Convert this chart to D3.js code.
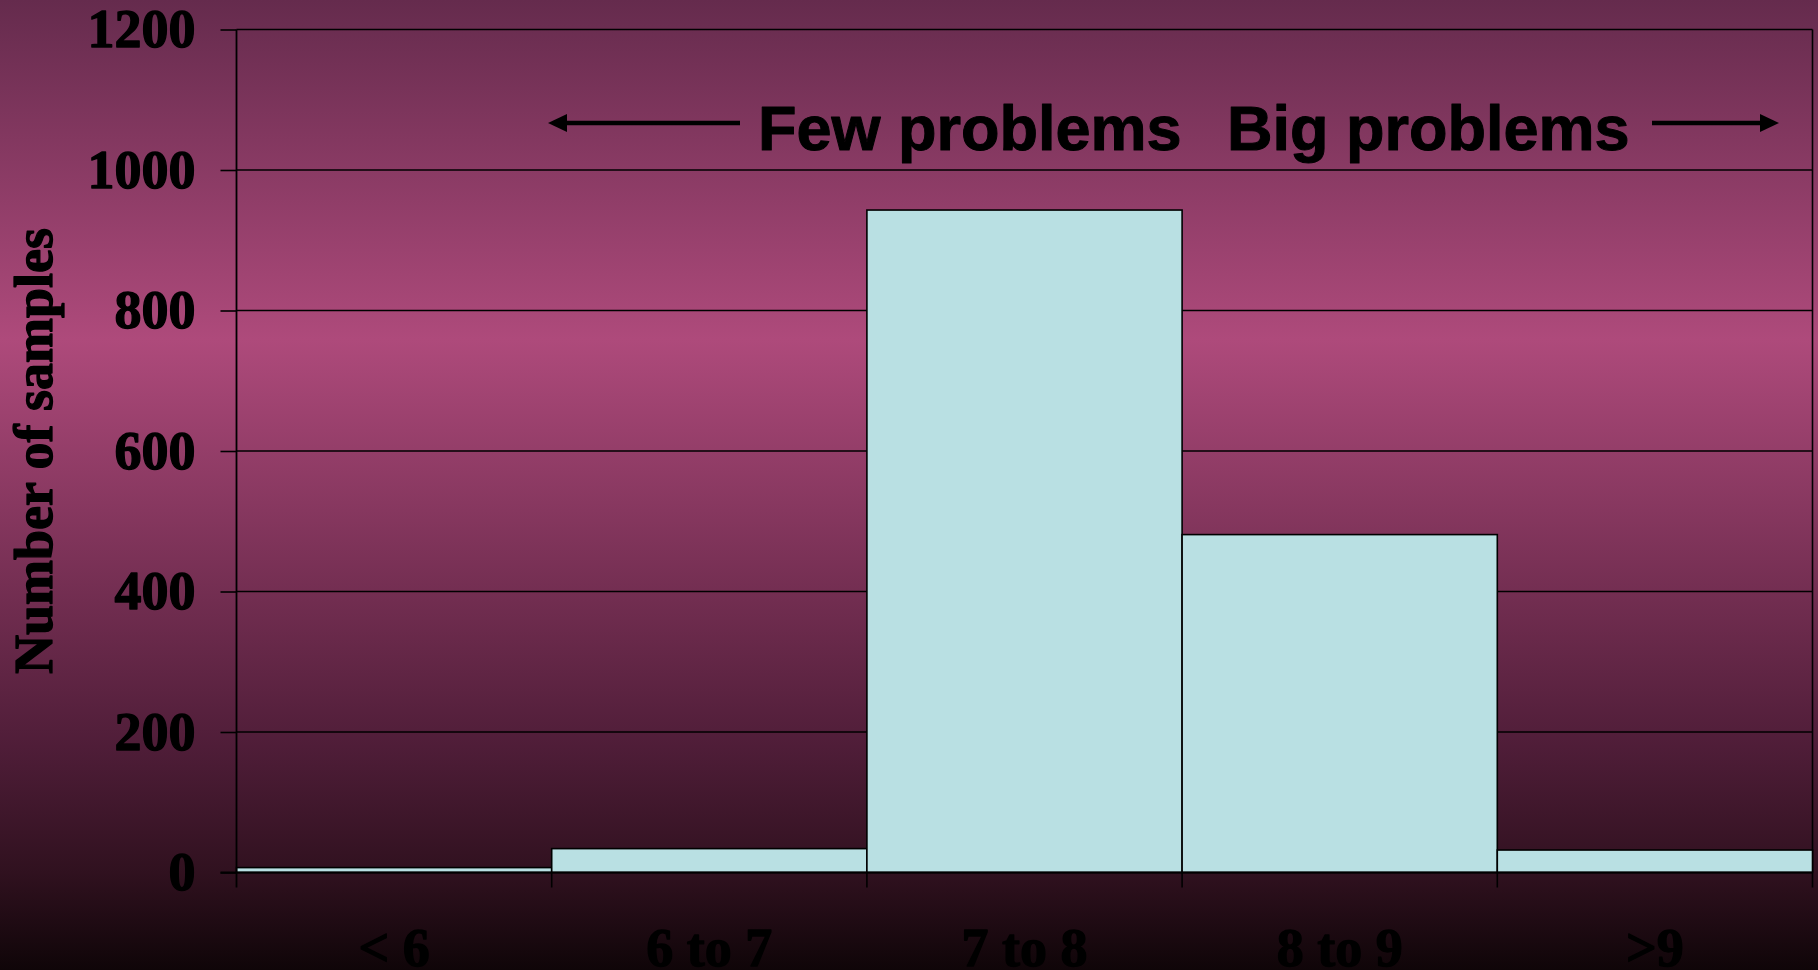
<!DOCTYPE html>
<html>
<head>
<meta charset="utf-8">
<script src="https://cdn.jsdelivr.net/npm/d3@7/dist/d3.min.js"></script>
<style>
  html, body { margin: 0; padding: 0; background: #100508; }
  svg { display: block; }
</style>
</head>
<body>
<svg id="chart" width="1818" height="970"></svg>
<script>
// Histogram of sample counts per class
const categories = ["< 6", "6 to 7", "7 to 8", "8 to 9", ">9"];
const counts = [7, 34, 943, 481, 32];
const yTicks = [0, 200, 400, 600, 800, 1000, 1200];
const yTitle = "Number of samples";
const leftNote = "Few problems";
const rightNote = "Big problems";

const W = 1818, H = 970;
const plot = { left: 236.5, right: 1812.5, top: 29.5, bottom: 872.5 };
const serif = "'Liberation Serif', 'Times New Roman', serif";
const sans = "'Liberation Sans', Arial, sans-serif";

const svg = d3.select("#chart");

// Heavy text: fill plus a thin outline of the same colour
function heavy(sel, family, size, sw) {
  return sel.attr("fill", "#000").attr("stroke", "#000").attr("stroke-width", sw)
    .attr("stroke-linejoin", "round")
    .style("font-family", family).style("font-weight", "bold").style("font-size", size + "px");
}

// Background: vertical plum gradient, brightest about a third of the way down
const defs = svg.append("defs");
const grad = defs.append("linearGradient")
  .attr("id", "bg").attr("x1", 0).attr("y1", 0).attr("x2", 0).attr("y2", 1);
[[0, "#652b4d"], [0.35, "#ae4a7b"], [0.77, "#4f1d38"], [0.9, "#30111f"], [1, "#0f0508"]]
  .forEach(([o, c]) => grad.append("stop").attr("offset", o).attr("stop-color", c));
svg.append("rect").attr("width", W).attr("height", H).attr("fill", "url(#bg)");

const x = d3.scaleBand().domain(categories).range([plot.left, plot.right]).padding(0);
const y = d3.scaleLinear().domain([0, 1200]).range([plot.bottom, plot.top]);

// Horizontal gridlines
svg.append("g").selectAll("line")
  .data(yTicks.filter(v => v > 0))
  .join("line")
  .attr("x1", plot.left).attr("x2", plot.right)
  .attr("y1", d => y(d)).attr("y2", d => y(d))
  .attr("stroke", "#000").attr("stroke-width", 1.6);

// Right border of the plot
svg.append("line")
  .attr("x1", plot.right).attr("x2", plot.right)
  .attr("y1", plot.top).attr("y2", plot.bottom + 15)
  .attr("stroke", "#000").attr("stroke-width", 1.6);

// Bars
svg.append("g").selectAll("rect")
  .data(categories.map((c, i) => ({ c, v: counts[i] })))
  .join("rect")
  .attr("x", d => x(d.c))
  .attr("width", x.bandwidth())
  .attr("y", d => y(d.v))
  .attr("height", d => y(0) - y(d.v))
  .attr("fill", "#b9e0e3")
  .attr("stroke", "#000").attr("stroke-width", 1.6);

// Y axis
const yAxis = svg.append("g")
  .attr("transform", `translate(${plot.left},0)`)
  .call(d3.axisLeft(y).tickValues(yTicks).tickSize(16).tickPadding(25).tickFormat(d3.format("d")));
yAxis.select(".domain").remove();
yAxis.selectAll(".tick line").attr("stroke", "#000").attr("stroke-width", 1.6);
heavy(yAxis.selectAll(".tick text"), serif, 54, 1.3);
svg.append("line")
  .attr("x1", plot.left).attr("x2", plot.left)
  .attr("y1", plot.top).attr("y2", plot.bottom + 15)
  .attr("stroke", "#000").attr("stroke-width", 1.8);

// X axis: baseline with boundary ticks between classes
svg.append("line")
  .attr("x1", plot.left - 16).attr("x2", plot.right)
  .attr("y1", y(0)).attr("y2", y(0))
  .attr("stroke", "#000").attr("stroke-width", 2);
svg.append("g").selectAll("line")
  .data(categories.slice(1))
  .join("line")
  .attr("x1", d => x(d)).attr("x2", d => x(d))
  .attr("y1", y(0)).attr("y2", y(0) + 15)
  .attr("stroke", "#000").attr("stroke-width", 1.6);
heavy(svg.append("g").selectAll("text")
  .data(categories)
  .join("text")
  .attr("x", d => x(d) + x.bandwidth() / 2)
  .attr("y", 966)
  .attr("text-anchor", "middle")
  .text(d => d), serif, 54, 1.3);

// Y axis title
heavy(svg.append("text")
  .attr("transform", `translate(52,${(plot.top + plot.bottom) / 2}) rotate(-90)`)
  .attr("text-anchor", "middle")
  .text(yTitle), serif, 54, 1.3);

// Annotation: direction arrows and notes
const arrowY = 123;
function arrow(x1, x2) {
  const dir = Math.sign(x2 - x1);
  svg.append("line")
    .attr("x1", x1).attr("x2", x2 - dir * 14)
    .attr("y1", arrowY).attr("y2", arrowY)
    .attr("stroke", "#000").attr("stroke-width", 4.5);
  svg.append("path")
    .attr("d", `M${x2},${arrowY} L${x2 - dir * 19},${arrowY - 9} L${x2 - dir * 19},${arrowY + 9} Z`)
    .attr("fill", "#000");
}
arrow(740, 548);
arrow(1652, 1779);

heavy(svg.append("text").attr("x", 758).attr("y", 150).text(leftNote), sans, 63, 1);
heavy(svg.append("text").attr("x", 1227).attr("y", 150).text(rightNote), sans, 63, 1);
</script>
</body>
</html>
